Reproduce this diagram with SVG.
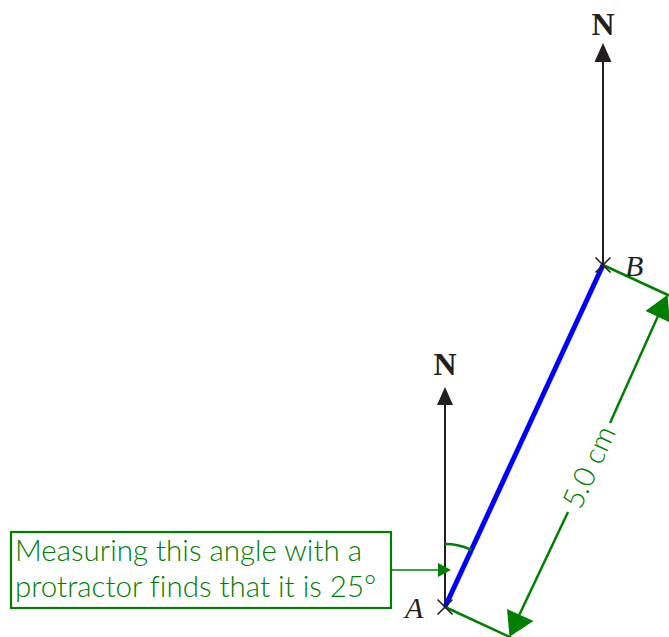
<svg xmlns="http://www.w3.org/2000/svg" width="669" height="637" viewBox="0 0 669 637">
<defs>
<style>
.nline{stroke:#231f20;stroke-width:2;fill:none}
.nhead{fill:#231f20}
.nlab{font-family:"Liberation Serif",serif;font-weight:bold;font-size:32px;fill:#231f20;text-anchor:middle}
.ptlab{font-family:"Liberation Serif",serif;font-style:italic;font-size:30px;fill:#231f20}
.cross{stroke:#231f20;stroke-width:1.6}
.g{stroke:#008000;stroke-width:2.5;fill:none}
.gfill{fill:#008000}
.gtext{font-family:Lato,"Open Sans",sans-serif;font-weight:300;font-size:29.5px;fill:#008000;font-variant-ligatures:none}
</style>
</defs>
<rect width="669" height="637" fill="#fff"/>
<g id="north-A">
<line class="nline" x1="445" y1="607" x2="445" y2="400"/>
<polygon class="nhead" points="445,387 453,405 437,405"/>
<text class="nlab" x="445" y="375">N</text>
</g>
<g id="north-B">
<line class="nline" x1="603" y1="265" x2="603" y2="56"/>
<polygon class="nhead" points="603,43 611.5,62 594.5,62"/>
<text class="nlab" x="603" y="35">N</text>
</g>
<g id="connectors">
<line x1="445" y1="607" x2="603" y2="265" stroke="#0000ff" stroke-width="5"/>
<line class="g" x1="445" y1="607" x2="511" y2="637.5"/>
<line class="g" x1="603" y1="265" x2="669" y2="295.5"/>
<line class="g" x1="519" y1="615.5" x2="568" y2="512"/>
<line class="g" x1="610" y1="423" x2="658" y2="316"/>
<polygon class="gfill" points="509.5,636.8 507,609 533.5,621"/>
<polygon class="gfill" points="667.5,294.8 645.5,311 670,322.5"/>
<path class="g" d="M445,544 A63,63 0 0 1 471.4,549.8" stroke-width="2.2"/>
<line x1="391" y1="570" x2="440" y2="570" stroke="#008000" stroke-width="1.6"/>
<polygon class="gfill" points="451,570 438,563 438,577"/>
</g>
<g id="point-A">
<line class="cross" x1="437.5" y1="599.5" x2="452.5" y2="614.5"/>
<line class="cross" x1="437.5" y1="614.5" x2="452.5" y2="599.5"/>
<text class="ptlab" x="405" y="618">A</text>
</g>
<g id="point-B">
<line class="cross" x1="595.5" y1="257.5" x2="610.5" y2="272.5"/>
<line class="cross" x1="595.5" y1="272.5" x2="610.5" y2="257.5"/>
<text class="ptlab" x="625" y="276">B</text>
</g>
<g id="dimension-label">
<text class="gtext" transform="translate(589,467) rotate(-65.2)" text-anchor="middle" dy="0.35em">5.0 cm</text>
</g>
<g id="annotation">
<rect x="11" y="532" width="380" height="76" fill="none" stroke="#008000" stroke-width="2.2"/>
<text class="gtext" x="15" y="561">Measuring this angle with a</text>
<text class="gtext" x="15" y="597">protractor finds that it is 25°</text>
</g>
</svg>
